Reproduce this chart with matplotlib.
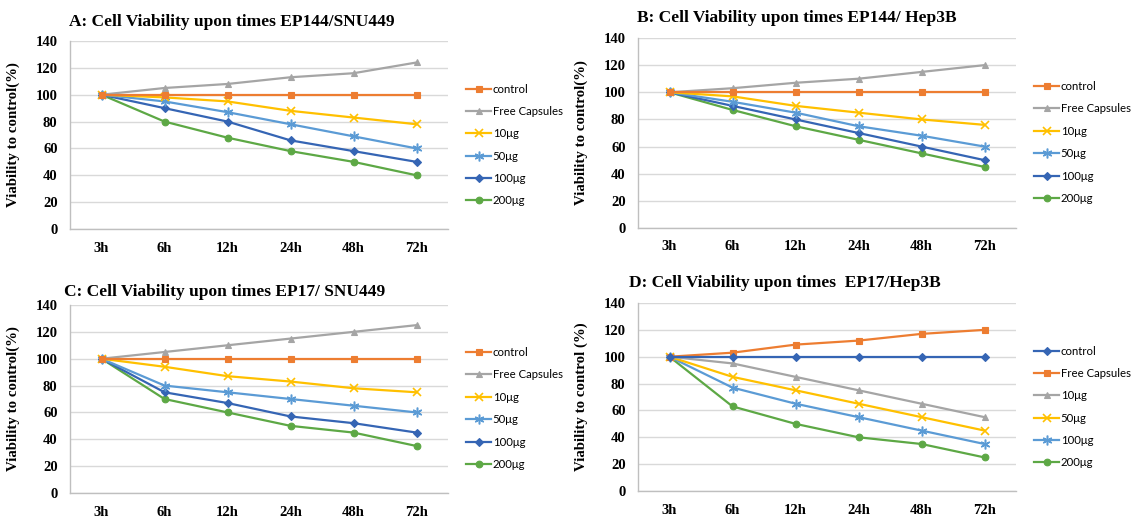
import matplotlib
matplotlib.use("Agg")
import matplotlib.pyplot as plt

times = ["3h", "6h", "12h", "24h", "48h", "72h"]
labels = ["control", "Free Capsules", "10μg", "50μg", "100μg", "200μg"]

titles = [
    "A: Cell Viability upon times EP144/SNU449",
    "B: Cell Viability upon times EP144/ Hep3B",
    "C: Cell Viability upon times EP17/ SNU449",
    "D: Cell Viability upon times  EP17/Hep3B",
]
ylabels = [
    "Viability to control(%)",
    "Viability to control(%)",
    "Viability to control(%)",
    "Viability to control (%)",
]

# Panel A: EP144 / SNU449
a_control = [100, 100, 100, 100, 100, 100]
a_free = [100, 105, 108, 113, 116, 124]
a_10 = [100, 98, 95, 88, 83, 78]
a_50 = [100, 95, 87, 78, 69, 60]
a_100 = [100, 90, 80, 66, 58, 50]
a_200 = [100, 80, 68, 58, 50, 40]

# Panel B: EP144 / Hep3B
b_control = [100, 100, 100, 100, 100, 100]
b_free = [100, 103, 107, 110, 115, 120]
b_10 = [100, 97, 90, 85, 80, 76]
b_50 = [100, 93, 85, 75, 68, 60]
b_100 = [100, 90, 80, 70, 60, 50]
b_200 = [100, 87, 75, 65, 55, 45]

# Panel C: EP17 / SNU449
c_control = [100, 100, 100, 100, 100, 100]
c_free = [100, 105, 110, 115, 120, 125]
c_10 = [100, 94, 87, 83, 78, 75]
c_50 = [100, 80, 75, 70, 65, 60]
c_100 = [100, 75, 67, 57, 52, 45]
c_200 = [100, 70, 60, 50, 45, 35]

# Panel D: EP17 / Hep3B
d_control = [100, 100, 100, 100, 100, 100]
d_free = [100, 103, 109, 112, 117, 120]
d_10 = [100, 95, 85, 75, 65, 55]
d_50 = [100, 85, 75, 65, 55, 45]
d_100 = [100, 77, 65, 55, 45, 35]
d_200 = [100, 63, 50, 40, 35, 25]

panels = [
    [a_control, a_free, a_10, a_50, a_100, a_200],
    [b_control, b_free, b_10, b_50, b_100, b_200],
    [c_control, c_free, c_10, c_50, c_100, c_200],
    [d_control, d_free, d_10, d_50, d_100, d_200],
]

ORANGE = "#ED7D31"
GRAY = "#A5A5A5"
GOLD = "#FFC000"
LBLUE = "#5B9BD5"
DBLUE = "#3565B4"
GREEN = "#5DA845"
STAR = (6, 2, 0)

style_abc = [
    (ORANGE, "s"), (GRAY, "^"), (GOLD, "x"), (LBLUE, STAR), (DBLUE, "D"), (GREEN, "o"),
]
style_d = [
    (DBLUE, "D"), (ORANGE, "s"), (GRAY, "^"), (GOLD, "x"), (LBLUE, STAR), (GREEN, "o"),
]
styles = [style_abc, style_abc, style_abc, style_d]

W, H = 1134, 520
fig = plt.figure(figsize=(W / 100, H / 100), dpi=100)

# axes rectangles in pixels: left, top, right, bottom
rects = [(70, 41, 448, 229), (638, 38, 1016, 228), (70, 305, 448, 493), (638, 303, 1016, 491)]
title_pos = [(69, 22), (637, 18), (64, 292), (629, 283)]
legend_pos = [(466, 145), (1034, 142.5), (466, 408.5), (1034, 407)]

serif = "Liberation Serif"
x = list(range(len(times)))

for i in range(4):
    l, t, r, b = rects[i]
    ax = fig.add_axes([l / W, 1 - b / H, (r - l) / W, (b - t) / H])
    for k, series in enumerate(panels[i]):
        col, mk = styles[i][k]
        if mk == "x":
            ms, mew = 5.5, 1.2
        elif mk == STAR:
            ms, mew = 7, 1.1
        elif mk == "D":
            ms, mew = 4, 0.8
        else:
            ms, mew = 4.8, 0.8
        ax.plot(x, series, color=col, marker=mk, markersize=ms, linewidth=1.6,
                markeredgewidth=mew, label=labels[k], solid_joinstyle="round",
                clip_on=False, zorder=3 + (5 - k) * 0.01)
    ax.set_xlim(-0.5, 5.5)
    ax.set_ylim(0, 140)
    ax.set_yticks(range(0, 141, 20))
    ax.set_xticks(x)
    ax.set_xticklabels(times)
    ax.grid(axis="y", color="#D9D9D9", linewidth=1.0)
    ax.set_axisbelow(True)
    for s in ("top", "right"):
        ax.spines[s].set_visible(False)
    for s in ("left", "bottom"):
        ax.spines[s].set_color("#BFBFBF")
        ax.spines[s].set_linewidth(1.0)
    ax.tick_params(axis="both", length=0)
    ax.tick_params(axis="y", pad=9)
    ax.tick_params(axis="x", pad=9)
    for lab in ax.get_xticklabels() + ax.get_yticklabels():
        lab.set_fontfamily(serif)
        lab.set_fontweight("bold")
        lab.set_fontsize(10.5)
    ax.set_ylabel(ylabels[i], fontfamily=serif, fontweight="bold", fontsize=10.7)
    ax.yaxis.set_label_coords(-0.132, 0.5)

    tx, ty = title_pos[i]
    fig.text(tx / W, 1 - ty / H, titles[i], fontfamily=serif, fontweight="bold",
             fontsize=12.5, ha="left", va="center")

    lx, ly = legend_pos[i]
    fig.legend(*ax.get_legend_handles_labels(), loc="center left",
               bbox_to_anchor=(lx / W, 1 - ly / H), bbox_transform=fig.transFigure,
               frameon=False, borderpad=0, borderaxespad=0, handlelength=2.2,
               handletextpad=0.15, labelspacing=1.0,
               prop={"family": "Lato", "size": 8.2})

fig.savefig("out.png", dpi=100)
